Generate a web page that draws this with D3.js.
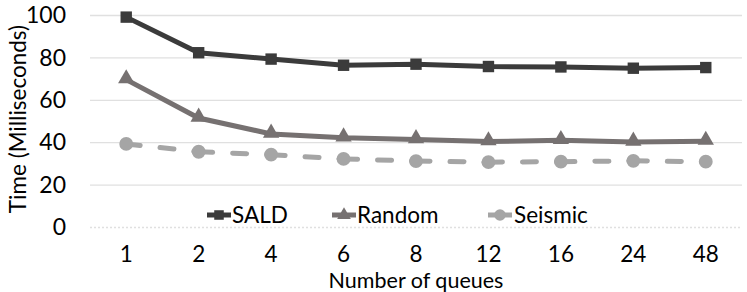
<!DOCTYPE html>
<html>
<head>
<meta charset="utf-8">
<script src="https://cdn.jsdelivr.net/npm/d3@7"></script>
<style>
  body { margin: 0; background: #fff; }
  svg { display: block; font-family: Lato, "Open Sans", sans-serif; }
</style>
</head>
<body>
<script>
// categories on the x axis (number of queues)
var queues = ["1", "2", "4", "6", "8", "12", "16", "24", "48"];

// time in milliseconds
var sald    = [99, 82.2, 79.2, 76.3, 76.8, 75.7, 75.5, 74.9, 75.2];
var random  = [69.5, 51.4, 43.9, 42.1, 41.3, 40.3, 40.9, 40.1, 40.5];
var seismic = [39.2, 35.5, 34.1, 32.1, 31.1, 30.6, 30.8, 31.2, 30.8];

var yTicks = [0, 20, 40, 60, 80, 100];

var W = 747, H = 292;

var svg = d3.select("body").append("svg")
    .attr("width", W)
    .attr("height", H);

var x = d3.scaleBand()
    .domain(queues)
    .range([90, 742])
    .padding(0);

var y = d3.scaleLinear()
    .domain([0, 100])
    .range([227, 15]);

// gridlines
svg.append("g").selectAll("line")
  .data(yTicks)
  .join("line")
    .attr("x1", 90)
    .attr("x2", 742)
    .attr("y1", function(d) { return y(d) + 0.5; })
    .attr("y2", function(d) { return y(d) + 0.5; })
    .attr("stroke", "#e0e0e0")
    .attr("stroke-width", 1.3)
    .attr("stroke-dasharray", function(d) { return d === 0 ? "2,2" : null; });

// y tick labels
svg.append("g").selectAll("text")
  .data(yTicks)
  .join("text")
    .attr("x", 66)
    .attr("y", function(d) { return y(d); })
    .attr("dy", "0.36em")
    .attr("text-anchor", "end")
    .attr("font-size", 23)
    .attr("fill", "#000")
    .text(function(d) { return d; });

// x tick labels
svg.append("g").selectAll("text")
  .data(queues)
  .join("text")
    .attr("x", function(d) { return x(d) + x.bandwidth() / 2; })
    .attr("y", 254)
    .attr("dy", "0.36em")
    .attr("text-anchor", "middle")
    .attr("font-size", 22.5)
    .attr("fill", "#000")
    .text(function(d) { return d; });

// axis titles
svg.append("text")
    .attr("transform", "translate(18,119) rotate(-90)")
    .attr("dy", "0.35em")
    .attr("text-anchor", "middle")
    .attr("font-size", 22.5)
    .text("Time (Milliseconds)");

svg.append("text")
    .attr("x", 416)
    .attr("y", 288)
    .attr("text-anchor", "middle")
    .attr("font-size", 21.5)
    .text("Number of queues");

var cx = function(i) { return x(queues[i]) + x.bandwidth() / 2; };

var line = d3.line()
    .x(function(d, i) { return cx(i); })
    .y(function(d) { return y(d); });

var series = [
  { name: "SALD",    values: sald,    color: "#3b3b3b", marker: "square" },
  { name: "Random",  values: random,  color: "#767171", marker: "triangle" },
  { name: "Seismic", values: seismic, color: "#a5a5a5", marker: "circle" }
];

function markerPath(type, scale) {
  var k = scale || 1;
  if (type === "square") return d3.symbol(d3.symbolSquare, 130 * k)();
  if (type === "triangle") return d3.symbol(d3.symbolTriangle, 115 * k)();
  return d3.symbol(d3.symbolCircle, 150 * k)();
}

series.forEach(function(s) {
  var g = svg.append("g");
  if (s.name === "Seismic") {
    // dashed line, pattern restarts on each segment
    d3.pairs(s.values.map(function(v, i) { return [cx(i), y(v)]; }))
      .forEach(function(p) {
        g.append("line")
          .attr("x1", p[0][0]).attr("y1", p[0][1])
          .attr("x2", p[1][0]).attr("y2", p[1][1])
          .attr("stroke", s.color)
          .attr("stroke-width", 5)
          .attr("stroke-linecap", "round")
          .attr("stroke-dasharray", "14,20");
      });
  } else {
    g.append("path")
      .datum(s.values)
      .attr("fill", "none")
      .attr("stroke", s.color)
      .attr("stroke-width", 5)
      .attr("d", line);
  }
  g.selectAll("path.mk")
    .data(s.values)
    .join("path")
      .attr("class", "mk")
      .attr("transform", function(d, i) {
        var dy = s.marker === "triangle" ? -1 : 0;
        return "translate(" + cx(i) + "," + (y(d) + dy) + ")";
      })
      .attr("d", markerPath(s.marker))
      .attr("fill", s.color);
});

// legend
var legendX = [207, 332, 488];
var leg = svg.append("g").selectAll("g")
  .data(series)
  .join("g")
    .attr("transform", function(d, i) { return "translate(" + legendX[i] + ",215)"; });

leg.append("line")
    .attr("x1", 0).attr("x2", 24)
    .attr("stroke", function(d) { return d.color; })
    .attr("stroke-width", 5);

leg.append("path")
    .attr("transform", "translate(12,0)")
    .attr("d", function(d) { return markerPath(d.marker, 0.7); })
    .attr("fill", function(d) { return d.color; });

leg.append("text")
    .attr("x", function(d, i) { return i === 2 ? 26 : 25; })
    .attr("dy", "0.36em")
    .attr("font-size", 22.5)
    .text(function(d) { return d.name; });
</script>
</body>
</html>
